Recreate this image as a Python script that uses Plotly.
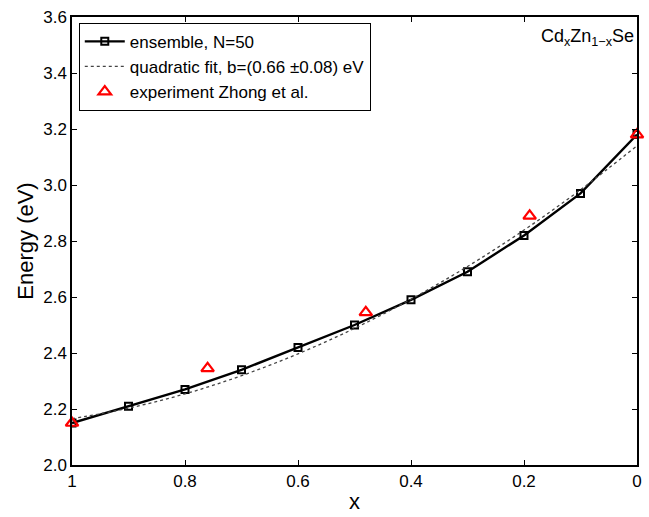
import plotly.graph_objects as go

# Data
x_ens = [1.0, 0.9, 0.8, 0.7, 0.6, 0.5, 0.4, 0.3, 0.2, 0.1, 0.0]
e_ens = [2.15, 2.21, 2.27, 2.34, 2.42, 2.50, 2.59, 2.69, 2.82, 2.97, 3.18]

x_fit = [1.0, 0.9, 0.8, 0.7, 0.6, 0.5, 0.4, 0.3, 0.2, 0.1, 0.0]
e_fit = [2.165, 2.203, 2.254, 2.319, 2.397, 2.488, 2.592, 2.709, 2.839, 2.983, 3.14]

x_exp = [1.0, 0.76, 0.48, 0.19, 0.0]
e_exp = [2.15, 2.345, 2.545, 2.89, 3.18]

x_ticks = [1, 0.8, 0.6, 0.4, 0.2, 0]
x_ticktext = ["1", "0.8", "0.6", "0.4", "0.2", "0"]
y_ticks = [2.0, 2.2, 2.4, 2.6, 2.8, 3.0, 3.2, 3.4, 3.6]
y_ticktext = ["2.0", "2.2", "2.4", "2.6", "2.8", "3.0", "3.2", "3.4", "3.6"]

FONT = "Liberation Sans, Arial, Helvetica, sans-serif"

fig = go.Figure()
fig.add_trace(go.Scatter(
    x=x_ens, y=e_ens, mode="lines+markers", name="ensemble, N=50",
    line=dict(color="black", width=2.4),
    marker=dict(symbol="square-open", size=7, color="black", line=dict(width=2, color="black")),
))
fig.add_trace(go.Scatter(
    x=x_fit, y=e_fit, mode="lines", name="quadratic fit, b=(0.66 \u00b10.08) eV",
    line=dict(color="#444444", width=1.3, dash="dot"), line_shape="spline",
))
fig.add_trace(go.Scatter(
    x=x_exp, y=e_exp, mode="markers", name="experiment Zhong et al.",
    marker=dict(symbol="triangle-up-open", size=11, color="red", line=dict(width=2.2, color="red")),
    cliponaxis=False,
))

axis_common = dict(
    showline=True, linecolor="black", linewidth=1.5, mirror="ticks",
    ticks="inside", ticklen=5, tickcolor="black", tickwidth=1,
    showgrid=False, zeroline=False,
    tickfont=dict(family=FONT, size=17, color="black"),
)

fig.update_layout(
    width=649, height=517,
    margin=dict(l=72, r=7, t=17, b=51),
    paper_bgcolor="white", plot_bgcolor="white",
    font=dict(family=FONT, color="black"),
    xaxis=dict(range=[1, 0], tickvals=x_ticks, ticktext=x_ticktext,
               title=dict(text="x", font=dict(family=FONT, size=22), standoff=3),
               **axis_common),
    yaxis=dict(range=[2.0, 3.6], tickvals=y_ticks, ticktext=y_ticktext,
               title=dict(text="Energy (eV)", font=dict(family=FONT, size=22), standoff=4),
               **axis_common),
    legend=dict(x=0.012, y=0.987, xanchor="left", yanchor="top",
                bordercolor="black", borderwidth=1, bgcolor="white",
                font=dict(family=FONT, size=17), tracegroupgap=0,
                itemwidth=40),
    showlegend=True,
    annotations=[dict(
        x=0.999, y=0.985, xref="paper", yref="paper", xanchor="right", yanchor="top",
        text="Cd<sub>x</sub>Zn<sub>1\u2212x</sub>Se", showarrow=False,
        font=dict(family=FONT, size=18, color="black"),
    )],
)

fig.write_html("out.html")
